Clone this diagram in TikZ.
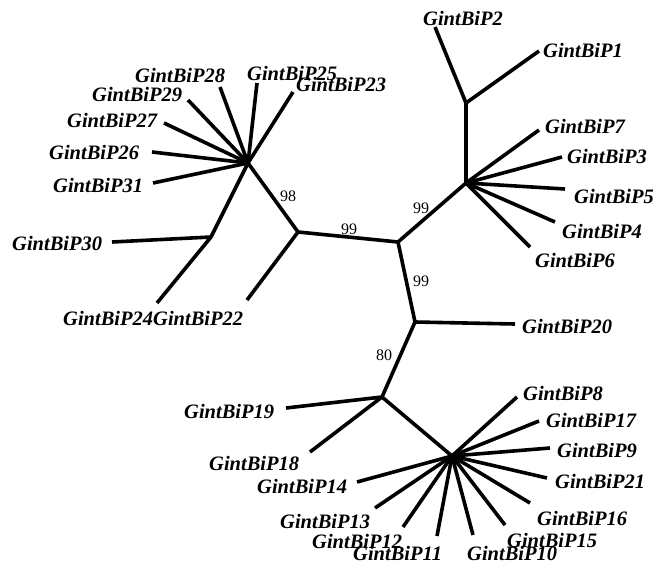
\documentclass[tikz,border=0pt]{standalone}
\usepackage{fontspec}
\setmainfont{Liberation Serif}
\begin{document}
\begin{tikzpicture}[x=1pt,y=-1pt,
  branch/.style={line width=3.6pt,line join=round},
  leaf/.style={font=\fontsize{20.5}{22}\selectfont\bfseries\itshape,inner sep=0pt,anchor=base west},
  boot/.style={font=\fontsize{16}{18}\selectfont,inner sep=0pt,anchor=base}]
\useasboundingbox (0,0) rectangle (656,565);
% internal nodes
\coordinate (A) at (248,163);
\coordinate (B) at (211,237);
\coordinate (C) at (298,232);
\coordinate (D) at (398,242);
\coordinate (E) at (466,103);
\coordinate (F) at (466,183);
\coordinate (G) at (415,322);
\coordinate (H) at (382,397);
\coordinate (I) at (452,456);
% leaf ends
\coordinate (e28) at (220,87);
\coordinate (e25) at (257,83);
\coordinate (e23) at (293,92);
\coordinate (e29) at (188,100);
\coordinate (e27) at (164,123);
\coordinate (e26) at (152,152);
\coordinate (e31) at (153,183);
\coordinate (e30) at (112,242);
\coordinate (e24) at (157,303);
\coordinate (e22) at (247,300);
\coordinate (e2) at (435,27);
\coordinate (e1) at (539,51);
\coordinate (e7) at (539,130);
\coordinate (e3) at (562,157);
\coordinate (e5) at (565,189);
\coordinate (e4) at (555,222);
\coordinate (e6) at (530,247);
\coordinate (e20) at (515,324);
\coordinate (e19) at (286,408);
\coordinate (e18) at (310,452);
\coordinate (e8) at (517,397);
\coordinate (e17) at (539,421);
\coordinate (e9) at (550,448);
\coordinate (e21) at (547,478);
\coordinate (e16) at (530,503);
\coordinate (e15) at (505,525);
\coordinate (e10) at (473,535);
\coordinate (e11) at (437,536);
\coordinate (e12) at (403,527);
\coordinate (e13) at (375,508);
\coordinate (e14) at (357,482);
% branches
\draw[branch] (B) -- (A) -- (C) -- (D) -- (F) -- (E);
\draw[branch] (D) -- (G) -- (H) -- (I);
\foreach \l in {28,25,23,29,27,26,31} \draw[branch] (A) -- (e\l);
\draw[branch] (e30) -- (B) -- (e24);
\draw[branch] (C) -- (e22);
\draw[branch] (e2) -- (E) -- (e1);
\foreach \l in {7,3,5,4,6} \draw[branch] (F) -- (e\l);
\draw[branch] (G) -- (e20);
\draw[branch] (e19) -- (H) -- (e18);
\foreach \l in {8,17,9,21,16,15,10,11,12,13,14} \draw[branch] (I) -- (e\l);
% labels
\node[leaf] (P28) at (135,82) {GintBiP28};
\node[leaf] (P25) at (247,80) {GintBiP25};
\node[leaf] (P23) at (296,91) {GintBiP23};
\node[leaf] (P29) at (92,101) {GintBiP29};
\node[leaf] (P27) at (67,127) {GintBiP27};
\node[leaf] (P26) at (49,159) {GintBiP26};
\node[leaf] (P31) at (53,192) {GintBiP31};
\node[leaf] (P30) at (12,250) {GintBiP30};
\node[leaf] (P24) at (63,325) {GintBiP24};
\node[leaf] (P22) at (153,325) {GintBiP22};
\node[leaf] (P2) at (423,25) {GintBiP2};
\node[leaf] (P1) at (543,57) {GintBiP1};
\node[leaf] (P7) at (545,133) {GintBiP7};
\node[leaf] (P3) at (567,163) {GintBiP3};
\node[leaf] (P5) at (574,203) {GintBiP5};
\node[leaf] (P4) at (562,238) {GintBiP4};
\node[leaf] (P6) at (535,267) {GintBiP6};
\node[leaf] (P20) at (522,333) {GintBiP20};
\node[leaf] (P8) at (523,400) {GintBiP8};
\node[leaf] (P17) at (546,427) {GintBiP17};
\node[leaf] (P9) at (557,457) {GintBiP9};
\node[leaf] (P21) at (555,488) {GintBiP21};
\node[leaf] (P16) at (537,525) {GintBiP16};
\node[leaf] (P15) at (507,547) {GintBiP15};
\node[leaf] (P10) at (467,560) {GintBiP10};
\node[leaf] (P11) at (353,560) {GintBiP11};
\node[leaf] (P12) at (312,548) {GintBiP12};
\node[leaf] (P13) at (280,528) {GintBiP13};
\node[leaf] (P14) at (257,493) {GintBiP14};
\node[leaf] (P18) at (209,470) {GintBiP18};
\node[leaf] (P19) at (184,418) {GintBiP19};
% bootstrap values
\node[boot] (b98) at (288,201) {98};
\node[boot] (b99a) at (349,234) {99};
\node[boot] (b99b) at (421,213) {99};
\node[boot] (b99c) at (421,286) {99};
\node[boot] (b80) at (384,360) {80};
\end{tikzpicture}
\end{document}
